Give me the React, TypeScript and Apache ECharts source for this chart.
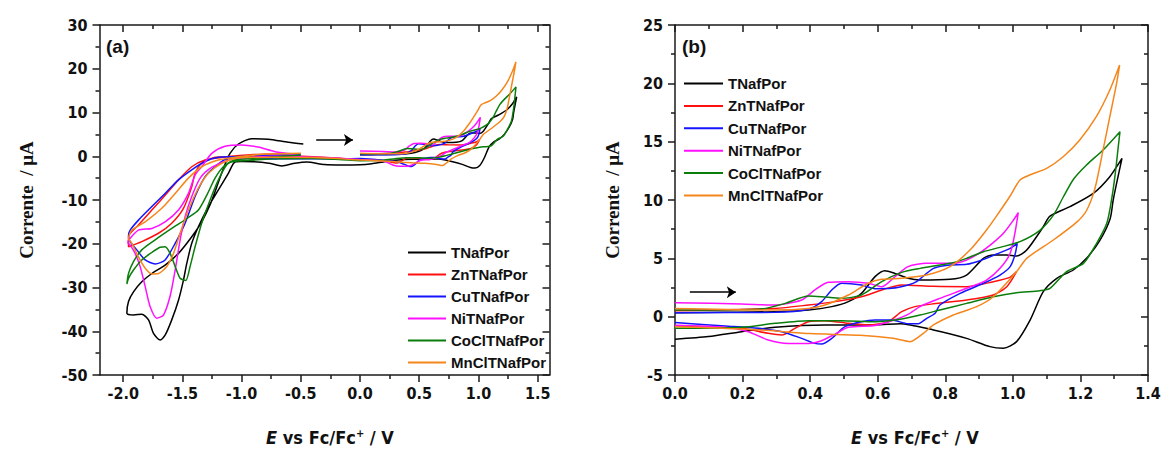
import React, { useEffect, useRef } from "react";
import * as echarts from "echarts";

// ---------- data ----------
const NAMES = ["TNafPor", "ZnTNafPor", "CuTNafPor", "NiTNafPor", "CoClTNafPor", "MnClTNafPor"];

// Panel (b): anodic sweep (fwd) and return (rev), E / V vs current / µA
const T_FWD = [[0,0.34],[0.15,0.38],[0.296,0.43],[0.395,0.57],[0.464,0.86],[0.513,1.29],[0.552,2.0],[0.592,3.43],[0.621,3.94],[0.651,3.71],[0.69,3.29],[0.725,3.14],[0.814,3.2],[0.863,3.57],[0.913,5.0],[0.942,5.29],[0.982,5.29],[1.011,5.2],[1.041,5.71],[1.09,7.71],[1.109,8.6],[1.169,9.43],[1.238,10.57],[1.287,12.0],[1.323,13.57]];
const T_REV = [[1.307,11.43],[1.297,10],[1.288,8.4],[1.258,6.57],[1.218,5.0],[1.179,4.0],[1.13,3.29],[1.09,2.14],[1.051,-0.29],[1.011,-2.14],[0.972,-2.71],[0.932,-2.57],[0.863,-1.86],[0.765,-1.14],[0.666,-0.6],[0.592,-0.71],[0.444,-0.71],[0.296,-0.91],[0.197,-1.29],[0.099,-1.71],[0,-1.94]];

const ZN_FWD = [[0,0.51],[0.296,0.71],[0.395,1.0],[0.474,1.29],[0.552,1.71],[0.612,2.29],[0.671,2.71],[0.765,2.6],[0.863,2.57],[0.942,3.0],[0.991,3.37],[1.011,3.86]];
const ZN_REV = [[0.982,2.57],[0.942,1.86],[0.863,1.43],[0.765,1.1],[0.71,0.86],[0.671,0.43],[0.631,-0.43],[0.572,-0.71],[0.513,-0.57],[0.444,-0.34],[0.395,-0.43],[0.355,-1.0],[0.316,-1.57],[0.276,-1.43],[0.197,-1.0],[0,-0.8]];

const CU_FWD = [[0,0.34],[0.296,0.37],[0.395,0.63],[0.434,1.29],[0.464,2.29],[0.493,2.86],[0.552,2.71],[0.592,2.4],[0.641,2.43],[0.69,2.71],[0.715,3.0],[0.765,4.14],[0.814,4.43],[0.863,4.49],[0.903,4.8],[0.952,5.37],[0.992,5.86],[1.013,6.29]];
const CU_REV = [[1.006,5.29],[0.992,4.29],[0.962,3.57],[0.913,2.86],[0.844,2.0],[0.784,1.0],[0.77,0.3],[0.745,-0.14],[0.72,-0.6],[0.69,-0.6],[0.641,-0.29],[0.592,-0.29],[0.552,-0.43],[0.503,-0.86],[0.464,-1.86],[0.434,-2.34],[0.414,-2.29],[0.375,-1.86],[0.316,-1.29],[0.247,-1.0],[0.148,-0.8],[0,-0.51]];

const NI_FWD = [[0,1.2],[0.197,1.09],[0.296,1.0],[0.375,1.43],[0.414,2.29],[0.454,2.94],[0.513,3.0],[0.572,2.86],[0.612,2.57],[0.651,3.43],[0.69,4.29],[0.745,4.57],[0.824,4.57],[0.863,4.86],[0.903,5.49],[0.942,6.34],[0.972,7.14],[1.002,8.29],[1.016,8.91]];
const NI_REV = [[1.006,7.14],[0.992,5.43],[0.962,4.14],[0.922,3.14],[0.863,2.43],[0.784,1.57],[0.725,0.86],[0.69,0.2],[0.646,-0.3],[0.592,-0.75],[0.513,-0.91],[0.474,-1.49],[0.434,-2.06],[0.395,-2.29],[0.335,-2.29],[0.276,-2.0],[0.217,-1.29],[0.148,-0.91],[0,-0.74]];

const CO_FWD = [[0,0.57],[0.247,0.63],[0.326,1.14],[0.395,1.77],[0.434,1.71],[0.493,1.57],[0.552,1.86],[0.612,3.0],[0.671,3.8],[0.725,4.14],[0.814,4.57],[0.863,5.0],[0.913,5.57],[0.962,5.94],[1.021,6.43],[1.08,7.4],[1.12,8.7],[1.15,10.3],[1.18,11.8],[1.218,13.0],[1.267,14.29],[1.317,15.86]];
const CO_REV = [[1.312,14.57],[1.302,12.0],[1.292,10],[1.278,8.0],[1.248,6.29],[1.209,4.57],[1.159,3.86],[1.11,2.43],[1.08,2.23],[1.011,2.06],[0.942,1.71],[0.863,1.14],[0.784,0.57],[0.725,0.14],[0.671,-0.2],[0.592,-0.43],[0.493,-0.34],[0.395,-0.34],[0.296,-0.57],[0.197,-0.91],[0,-1.0]];

const MN_FWD = [[0,0.71],[0.296,0.57],[0.395,0.71],[0.444,1.0],[0.513,1.86],[0.572,2.86],[0.612,3.2],[0.671,3.29],[0.745,3.57],[0.814,4.29],[0.873,5.71],[0.922,7.43],[0.951,8.6],[0.991,10.3],[1.021,11.71],[1.05,12.14],[1.1,12.71],[1.149,13.71],[1.198,15.14],[1.247,17.14],[1.287,19.43],[1.316,21.57]];
const MN_REV = [[1.307,20.0],[1.287,17.14],[1.267,14.29],[1.243,11.0],[1.218,9.1],[1.189,8.1],[1.12,6.57],[1.041,5.0],[1.011,3.86],[0.942,1.71],[0.893,0.86],[0.824,0.14],[0.765,-0.71],[0.735,-1.43],[0.696,-2.14],[0.646,-1.86],[0.548,-1.6],[0.4,-1.45],[0.252,-1.14],[0.104,-0.95],[0,-0.86]];

// Panel (a) extra: cathodic sweep to -2 V (cath) and return (ret)
const T_CATH = [[-0.15,-2.0],[-0.3,-1.9],[-0.45,-1.3],[-0.55,-1.6],[-0.66,-2.2],[-0.77,-1.6],[-0.9,-1.24],[-1.0,-1.2],[-1.056,-1.3],[-1.112,-3.9],[-1.196,-7.7],[-1.28,-11.5],[-1.365,-16.1],[-1.421,-19.9],[-1.463,-24.5],[-1.491,-28.3],[-1.533,-32.9],[-1.59,-37.4],[-1.646,-40.9],[-1.688,-42.0],[-1.744,-40.5],[-1.786,-37.4],[-1.843,-36.1],[-1.913,-36.3],[-1.969,-35.9]];
const T_RET = [[-1.955,-33.2],[-1.913,-31.0],[-1.843,-28.7],[-1.758,-26.8],[-1.646,-24.9],[-1.533,-22.2],[-1.421,-18.4],[-1.337,-15.0],[-1.266,-11.1],[-1.21,-7.0],[-1.154,-2.8],[-1.098,0.67],[-1.027,2.8],[-0.915,4.0],[-0.775,3.9],[-0.606,3.2],[-0.479,2.8]];

const ZN_CATH = [[-0.15,-0.5],[-0.4,-0.1],[-0.7,0.1],[-0.95,0.0],[-1.112,-0.1],[-1.224,-0.25],[-1.337,-1.6],[-1.393,-3.9],[-1.421,-7.0],[-1.491,-11.9],[-1.59,-15.3],[-1.702,-17.6],[-1.843,-19.5],[-1.955,-20.7]];
const ZN_RET = [[-1.955,-18.4],[-1.871,-15.7],[-1.758,-12.3],[-1.646,-8.9],[-1.533,-5.4],[-1.421,-2.4],[-1.309,-0.86],[-1.168,-0.25],[-0.9,0.4],[-0.5,0.6]];

const CU_CATH = [[-0.15,-0.6],[-0.4,-0.5],[-0.7,-0.6],[-0.95,-0.5],[-1.112,-0.48],[-1.224,-2.4],[-1.309,-4.7],[-1.393,-9.2],[-1.477,-15.3],[-1.561,-19.9],[-1.646,-23.7],[-1.73,-24.6],[-1.814,-23.7],[-1.885,-21.4],[-1.941,-19.5],[-1.955,-18.2]];
const CU_RET = [[-1.941,-16.9],[-1.871,-14.6],[-1.758,-11.5],[-1.646,-8.5],[-1.533,-5.4],[-1.421,-3.1],[-1.309,-1.2],[-1.196,-0.25],[-1.056,-0.1],[-0.8,0.2],[-0.5,0.3]];

const NI_CATH = [[-0.15,-0.5],[-0.4,-0.2],[-0.7,0.0],[-0.95,-0.3],[-1.1,-0.8],[-1.25,-2.5],[-1.35,-5],[-1.421,-9.2],[-1.477,-13.8],[-1.519,-19.1],[-1.561,-26],[-1.604,-32],[-1.66,-36.3],[-1.716,-37],[-1.772,-34.4],[-1.814,-29.8],[-1.857,-25.2],[-1.899,-22.2],[-1.941,-20.3],[-1.96,-19.8]];
const NI_RET = [[-1.955,-19.2],[-1.871,-16.9],[-1.758,-16.5],[-1.646,-15.0],[-1.533,-12.3],[-1.449,-8.5],[-1.393,-4.3],[-1.337,-2.4],[-1.252,0.67],[-1.14,2.3],[-1.0,2.6],[-0.859,2.1],[-0.718,1.05],[-0.55,0.5]];

const CO_CATH = [[-0.15,-0.8],[-0.4,-0.5],[-0.7,-0.6],[-0.95,-1.0],[-1.112,-1.6],[-1.196,-5.4],[-1.266,-10.0],[-1.337,-15.3],[-1.393,-20.7],[-1.435,-25.2],[-1.472,-28.4],[-1.519,-27.9],[-1.561,-25.2],[-1.604,-22.2],[-1.646,-20.7],[-1.688,-20.8],[-1.758,-22.0],[-1.843,-23.7],[-1.913,-26.0],[-1.955,-27.9],[-1.969,-29.2]];
const CO_RET = [[-1.955,-26.8],[-1.913,-24.1],[-1.843,-21.4],[-1.73,-19.1],[-1.59,-16.5],[-1.449,-14.0],[-1.365,-12.3],[-1.294,-8.9],[-1.224,-5.0],[-1.154,-2.4],[-1.056,-0.86],[-0.887,-0.5],[-0.5,0.3]];

const MN_CATH = [[-0.15,-0.6],[-0.4,-0.3],[-0.7,-0.2],[-0.95,-0.3],[-1.056,-0.5],[-1.168,-1.6],[-1.28,-3.9],[-1.365,-7.3],[-1.449,-12.3],[-1.519,-17.6],[-1.575,-22.2],[-1.632,-25.2],[-1.702,-26.8],[-1.758,-26.9],[-1.814,-25.6],[-1.871,-23.0],[-1.927,-19.9],[-1.955,-18.8]];
const MN_RET = [[-1.927,-16.9],[-1.814,-15.0],[-1.674,-11.9],[-1.561,-8.5],[-1.449,-5.0],[-1.337,-2.4],[-1.196,-0.86],[-1.056,-0.25],[-0.8,0.5],[-0.5,0.7]];

const FWD = [T_FWD, ZN_FWD, CU_FWD, NI_FWD, CO_FWD, MN_FWD];
const REV = [T_REV, ZN_REV, CU_REV, NI_REV, CO_REV, MN_REV];
const CATH = [T_CATH, ZN_CATH, CU_CATH, NI_CATH, CO_CATH, MN_CATH];
const RET = [T_RET, ZN_RET, CU_RET, NI_RET, CO_RET, MN_RET];

// axis ticks
const XA_MAJOR = [-2, -1.5, -1, -0.5, 0, 0.5, 1, 1.5];
const XA_MINOR = [-1.75, -1.25, -0.75, -0.25, 0.25, 0.75, 1.25];

// scan-direction arrows (data coords)
const ARROW_A = [[-0.37, 3.7], [-0.06, 3.7]];
const ARROW_B = [[0.044, 2.1], [0.18, 2.1]];

const COLORS = ["#000000", "#ff1010", "#1414ff", "#ff10ff", "#0b7d0b", "#f5861c"];

const TICK_FONT = {
  fontFamily: "'Liberation Sans Narrow','Arial Narrow','DejaVu Sans Condensed',sans-serif",
  fontWeight: "bold",
  fontSize: 16,
  color: "#111",
};
const LINE = { lineStyle: { color: "#1a1a1a", width: 1.5 } };

function xAxesA(pos: "bottom" | "top") {
  const inside = pos === "top";
  return [
    {
      gridIndex: 0, type: "value", min: -2.2, max: 1.6, position: pos,
      axisLine: { show: true, onZero: false, ...LINE },
      axisTick: { show: true, customValues: XA_MAJOR, length: 7, inside, ...LINE },
      axisLabel: inside ? { show: false } : { show: true, customValues: XA_MAJOR, margin: 10, formatter: (v: number) => v.toFixed(1), ...TICK_FONT },
      splitLine: { show: false },
    },
    {
      gridIndex: 0, type: "value", min: -2.2, max: 1.6, position: pos,
      axisLine: { show: false, onZero: false },
      axisTick: { show: true, customValues: XA_MINOR, length: 4, inside, ...LINE },
      axisLabel: { show: false },
      splitLine: { show: false },
    },
  ];
}

function xAxisB(pos: "bottom" | "top") {
  const inside = pos === "top";
  return {
    gridIndex: 1, type: "value", min: 0, max: 1.4, interval: 0.2, position: pos,
    axisLine: { show: true, onZero: false, ...LINE },
    axisTick: { show: true, length: 7, inside, ...LINE },
    minorTick: { show: true, splitNumber: 2, length: 4, ...LINE },
    axisLabel: inside ? { show: false } : { show: true, margin: 10, formatter: (v: number) => v.toFixed(1), ...TICK_FONT },
    splitLine: { show: false },
    minorSplitLine: { show: false },
  };
}

function yAxis(grid: number, min: number, max: number, interval: number, pos: "left" | "right") {
  const inside = pos === "right";
  return {
    gridIndex: grid, type: "value", min, max, interval, position: pos,
    axisLine: { show: true, onZero: false, ...LINE },
    axisTick: { show: true, length: 7, inside, ...LINE },
    minorTick: { show: true, splitNumber: 2, length: 4, ...LINE },
    axisLabel: inside ? { show: false } : { show: true, margin: 12, ...TICK_FONT },
    splitLine: { show: false },
    minorSplitLine: { show: false },
  };
}

export default function App() {
  const ref = useRef<HTMLDivElement>(null);
  useEffect(() => {
    if (!ref.current) return;
    const chart = echarts.init(ref.current, null, { renderer: "svg" });
    const series: any[] = [];
    NAMES.forEach((name, i) => {
      series.push({
        type: "line", name, xAxisIndex: 0, yAxisIndex: 0,
        data: [...FWD[i], ...REV[i], ...CATH[i], ...RET[i]],
        symbol: "none", showSymbol: false, smooth: 0.25,
        lineStyle: { color: COLORS[i], width: 1.5 }, itemStyle: { color: COLORS[i] },
      });
    });
    NAMES.forEach((name, i) => {
      series.push({
        type: "line", name, xAxisIndex: 4, yAxisIndex: 2,
        data: [...FWD[i], ...REV[i]],
        symbol: "none", showSymbol: false, smooth: 0.25,
        lineStyle: { color: COLORS[i], width: 1.5 }, itemStyle: { color: COLORS[i] },
      });
    });
    series.push({
      type: "lines", coordinateSystem: "cartesian2d", xAxisIndex: 0, yAxisIndex: 0,
      data: [{ coords: ARROW_A }], symbol: ["none", "arrow"], symbolSize: 9,
      lineStyle: { color: "#000", width: 1.5, opacity: 1 }, silent: true,
    });
    series.push({
      type: "lines", coordinateSystem: "cartesian2d", xAxisIndex: 4, yAxisIndex: 2,
      data: [{ coords: ARROW_B }], symbol: ["none", "arrow"], symbolSize: 9,
      lineStyle: { color: "#000", width: 1.5, opacity: 1 }, silent: true,
    });

    const legendText = { fontFamily: "'Liberation Sans',Arial,sans-serif", fontWeight: "bold", fontSize: 15, color: "#111" };
    const titleFontY = "bold 19px 'Liberation Serif','Times New Roman',serif";
    const legendCommon = {
      data: NAMES, orient: "vertical", padding: 0, itemHeight: 14, selectedMode: false,
      textStyle: legendText, itemStyle: { opacity: 0 }, lineStyle: { width: 2 },
    };

    chart.setOption({
      animation: false,
      backgroundColor: "#ffffff",
      grid: [
        { left: 99.5, top: 25, width: 450, height: 350, containLabel: false, outerBoundsMode: "none" },
        { left: 675, top: 25, width: 473, height: 350, containLabel: false, outerBoundsMode: "none" },
      ],
      xAxis: [...xAxesA("bottom"), ...xAxesA("top"), xAxisB("bottom"), xAxisB("top")],
      yAxis: [yAxis(0, -50, 30, 10, "left"), yAxis(0, -50, 30, 10, "right"), yAxis(1, -5, 25, 5, "left"), yAxis(1, -5, 25, 5, "right")],
      legend: [
        { ...legendCommon, left: 407, top: 245, itemWidth: 38, itemGap: 7 },
        { ...legendCommon, left: 683, top: 76, itemWidth: 39, itemGap: 7.4 },
      ],
      graphic: [
        { type: "text", left: 106, top: 37, style: { text: "(a)", font: "bold 19px 'Liberation Sans',Arial,sans-serif", fill: "#111" } },
        { type: "text", left: 682, top: 37, style: { text: "(b)", font: "bold 19px 'Liberation Sans',Arial,sans-serif", fill: "#111" } },
        { type: "text", x: 26, y: 200, rotation: Math.PI / 2, style: { text: "Corrente  / μA", font: titleFontY, fill: "#111", align: "center", verticalAlign: "middle" } },
        { type: "text", x: 612, y: 200, rotation: Math.PI / 2, style: { text: "Corrente  / μA", font: titleFontY, fill: "#111", align: "center", verticalAlign: "middle" } },
        ...[330, 915].map((cx) => ({
          type: "text", x: cx, y: 437,
          style: {
            text: "{i|E} vs Fc/Fc{s|+} / V",
            align: "center", verticalAlign: "middle",
            font: "bold 18px 'Liberation Sans Narrow','Arial Narrow','DejaVu Sans Condensed',sans-serif",
            fill: "#111",
            rich: {
              i: { font: "italic bold 18px 'Liberation Sans Narrow','Arial Narrow','DejaVu Sans Condensed',sans-serif", fill: "#111" },
              s: { font: "bold 11px 'Liberation Sans Narrow','Arial Narrow','DejaVu Sans Condensed',sans-serif", fill: "#111", verticalAlign: "top", padding: [0, 0, 8, 0] },
            },
          },
        })),
      ],
      series,
    });
    return () => chart.dispose();
  }, []);
  return <div ref={ref} style={{ position: "absolute", left: 0, top: 0, width: 1163, height: 449 }} />;
}
